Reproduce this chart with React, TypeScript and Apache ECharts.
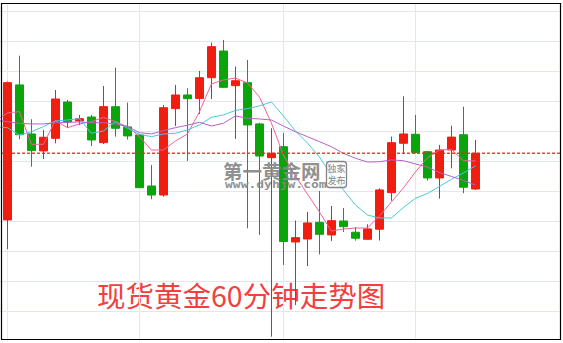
import { useEffect, useRef } from "react";
import * as echarts from "echarts";

// hourly slots: slot 0 is the hour before the first visible candle, then 40 candles, then empty future slots
const categories = Array.from({ length: 48 }, (_, i) => `H${i}`);

// [open, close, low, high]
const ohlc = [
  [1288.07, 1297.22, 1286.13, 1297.3],
  [1297.07, 1293.75, 1293.45, 1299.02],
  [1293.8, 1292.69, 1291.62, 1294.78],
  [1292.67, 1293.58, 1292.13, 1294.07],
  [1293.51, 1296.13, 1293.18, 1296.73],
  [1295.93, 1294.6, 1294.2, 1296.07],
  [1294.67, 1294.82, 1294.4, 1295.07],
  [1294.93, 1293.4, 1293.0, 1295.07],
  [1293.22, 1295.62, 1293.13, 1297.0],
  [1295.62, 1294.18, 1293.62, 1298.22],
  [1294.27, 1293.67, 1293.43, 1295.89],
  [1293.73, 1290.22, 1290.2, 1293.77],
  [1290.33, 1289.73, 1289.45, 1291.73],
  [1289.73, 1295.55, 1289.62, 1295.73],
  [1295.49, 1296.4, 1294.33, 1297.07],
  [1296.4, 1296.15, 1292.0, 1296.85],
  [1296.17, 1297.55, 1295.13, 1298.0],
  [1297.55, 1299.62, 1296.13, 1299.89],
  [1299.33, 1296.91, 1296.87, 1300.07],
  [1297.02, 1297.35, 1293.47, 1298.29],
  [1297.22, 1294.4, 1287.51, 1298.73],
  [1294.47, 1292.33, 1287.07, 1294.55],
  [1292.22, 1292.51, 1280.29, 1294.18],
  [1292.95, 1286.63, 1285.07, 1293.87],
  [1286.6, 1286.89, 1282.4, 1288.03],
  [1286.8, 1287.87, 1285.0, 1288.6],
  [1287.91, 1287.11, 1285.77, 1290.0],
  [1287.07, 1288.02, 1286.67, 1289.0],
  [1288.0, 1287.62, 1287.27, 1288.87],
  [1287.25, 1286.85, 1286.69, 1287.6],
  [1286.78, 1287.47, 1286.77, 1287.78],
  [1287.45, 1290.07, 1286.7, 1290.18],
  [1289.89, 1293.22, 1289.35, 1293.63],
  [1293.18, 1293.8, 1292.47, 1296.31],
  [1293.78, 1292.57, 1292.5, 1295.07],
  [1292.62, 1290.87, 1290.71, 1292.67],
  [1290.87, 1292.73, 1289.49, 1293.07],
  [1292.73, 1293.59, 1291.51, 1294.35],
  [1293.75, 1290.25, 1289.85, 1295.62],
  [1290.13, 1292.51, 1290.07, 1293.4],
];

// moving averages, first value = previous hour (slot 0)
const ma5 = [
  1294.67, 1295.2, 1295.29, 1293.11, 1293.11, 1294.69, 1294.22, 1294.47, 1294.62, 1294.91, 1294.62,
  1294.29, 1293.62, 1292.73, 1292.73, 1293.33, 1293.8, 1295.27, 1297.13, 1297.4, 1297.53, 1297.2,
  1296.27, 1294.53, 1292.4, 1291.0, 1289.8, 1288.6, 1287.33, 1287.47, 1287.53, 1287.53, 1288.33,
  1289.27, 1290.2, 1291.27, 1292.2, 1292.73, 1292.77, 1292.02, 1292.0,
];
const ma10 = [
  1294.27, 1294.22, 1293.73, 1293.95, 1294.29, 1294.67, 1294.73, 1294.82, 1293.85, 1294.0, 1294.62,
  1294.18, 1293.78, 1293.62, 1293.8, 1293.85, 1294.07, 1294.4, 1294.91, 1295.07, 1295.37, 1295.49,
  1295.67, 1295.93, 1295.0, 1294.0, 1293.2, 1292.27, 1291.07, 1290.07, 1289.07, 1288.4, 1288.2,
  1288.2, 1288.9, 1289.51, 1289.83, 1290.3, 1290.78, 1291.2, 1291.67,
];
const ma20 = [
  1294.7, 1294.62, 1294.51, 1294.47, 1294.47, 1294.55, 1294.58, 1294.6, 1294.55, 1294.55, 1294.47,
  1294.29, 1293.89, 1293.8, 1294.02, 1294.22, 1294.38, 1294.58, 1294.33, 1294.51, 1295.0, 1294.85,
  1294.8, 1294.73, 1294.33, 1293.95, 1293.62, 1293.29, 1292.95, 1292.51, 1292.18, 1291.93, 1291.95,
  1292.07, 1292.02, 1291.8, 1291.6, 1291.23, 1290.97, 1290.7, 1290.4,
];

// slots where the vertical separators are drawn
const dividerSlots = [1, 12, 24, 35];

const yMin = 1280;
const yMax = 1302.53;
const yStep = 2;

const title = "现货黄金60分钟走势图";

export default function App() {
  const ref = useRef<HTMLDivElement>(null);

  useEffect(() => {
    if (!ref.current) return;
    const chart = echarts.init(ref.current, null, { renderer: "svg" });
    const candleData = ohlc.map((r, i) => [i + 1, r[0], r[1], r[2], r[3]]);
    const lastClose = ohlc[ohlc.length - 1][1];
    const gray = "#858585";
    const priceRed = "#ff1a1a";

    const baseGraphic: any[] = [
      {
        id: "title",
        type: "text",
        x: 97,
        y: 294,
        z: 0,
        style: {
          text: title,
          fill: "#f2403f",
          fontSize: 28.5,
          fontFamily: "Noto Sans CJK SC",
          align: "left",
          verticalAlign: "middle",
        },
      },
      {
        id: "wm",
        type: "group",
        z: 50,
        silent: true,
        children: [
          {
            type: "text",
            x: 223,
            y: 170,
            z: 50,
            style: {
              text: "第一黄金网",
              fill: gray,
              fontSize: 19.5,
              fontWeight: "bold",
              fontFamily: "Noto Sans CJK SC",
              align: "left",
              verticalAlign: "middle",
              opacity: 0.92,
            },
          },
          {
            type: "text",
            x: 225,
            y: 185,
            z: 50,
            scaleX: 1.3,
            style: {
              text: "www.dyhjw.com",
              fill: gray,
              fontSize: 10,
              fontWeight: "bold",
              fontFamily: "DejaVu Sans Mono",
              align: "left",
              verticalAlign: "middle",
              opacity: 0.92,
            },
          },
          {
            type: "rect",
            z: 50,
            shape: { x: 326.5, y: 161.5, width: 20, height: 26, r: 3 },
            style: { fill: "rgba(255,255,255,0.5)", stroke: gray, lineWidth: 1.3 },
          },
          {
            type: "text",
            x: 336.5,
            y: 168,
            z: 51,
            style: {
              text: "独家",
              fill: gray,
              fontSize: 9,
              lineHeight: 10,
              fontFamily: "Noto Sans CJK SC",
              align: "center",
              verticalAlign: "middle",
            },
          },
          {
            type: "text",
            x: 336.5,
            y: 180.5,
            z: 51,
            style: {
              text: "发布",
              fill: gray,
              fontSize: 9,
              lineHeight: 10,
              fontFamily: "Noto Sans CJK SC",
              align: "center",
              verticalAlign: "middle",
            },
          },
        ],
      },
      {
        id: "frame",
        type: "rect",
        z: 100,
        silent: true,
        shape: { x: 1.5, y: 3.5, width: 559, height: 336 },
        style: { fill: "none", stroke: "#000", lineWidth: 1.2 },
      },
    ];

    chart.setOption({
      animation: false,
      backgroundColor: "#fff",
      grid: {
        left: -4.6,
        top: 3,
        width: 564,
        bottom: 2,
        outerBoundsMode: "none",
        containLabel: false,
      },
      xAxis: {
        type: "category",
        data: categories,
        boundaryGap: false,
        axisLine: { show: false },
        axisTick: { show: false },
        axisLabel: { show: false },
        splitLine: {
          show: true,
          interval: (idx: number) => dividerSlots.includes(idx),
          lineStyle: { color: "#e0e7ed", width: 1 },
        },
      },
      yAxis: {
        type: "value",
        min: yMin,
        max: yMax,
        interval: yStep,
        scale: true,
        axisLine: { show: false },
        axisTick: { show: false },
        axisLabel: { show: false },
        splitLine: {
          show: true,
          showMinLine: false,
          showMaxLine: false,
          lineStyle: { color: "#e0e7ed", width: 1 },
        },
      },
      graphic: baseGraphic,
      series: [
        {
          type: "candlestick",
          data: candleData,
          encode: { x: 0, y: [1, 2, 3, 4] },
          barWidth: 9,
          itemStyle: {
            color: "#f01e0e",
            color0: "#0aa50a",
            borderColor: "#f01e0e",
            borderColor0: "#0aa50a",
            borderWidth: 1,
          },
        },
        {
          type: "line",
          data: ma5,
          symbol: "none",
          lineStyle: { color: "#f0629a", width: 1 },
          z: 3,
        },
        {
          type: "line",
          data: ma10,
          symbol: "none",
          lineStyle: { color: "#48c9dd", width: 1 },
          z: 3,
        },
        {
          type: "line",
          data: ma20,
          symbol: "none",
          lineStyle: { color: "#b462c8", width: 1 },
          z: 3,
        },
      ],
    });

    // current-price dotted line, positioned through the y axis scale
    const py = chart.convertToPixel({ yAxisIndex: 0 }, lastClose) as number;
    chart.setOption({
      graphic: [
        ...baseGraphic,
        {
          id: "priceLine",
          type: "line",
          z: 20,
          silent: true,
          shape: { x1: 2, y1: py, x2: 560, y2: py },
          style: { stroke: priceRed, lineWidth: 1.5, lineDash: [3, 2], opacity: 0.85 },
        },
      ],
    });
    return () => chart.dispose();
  }, []);

  return (
    <div
      ref={ref}
      style={{ position: "fixed", left: 0, top: 0, width: 563, height: 343, background: "#fff" }}
    />
  );
}
